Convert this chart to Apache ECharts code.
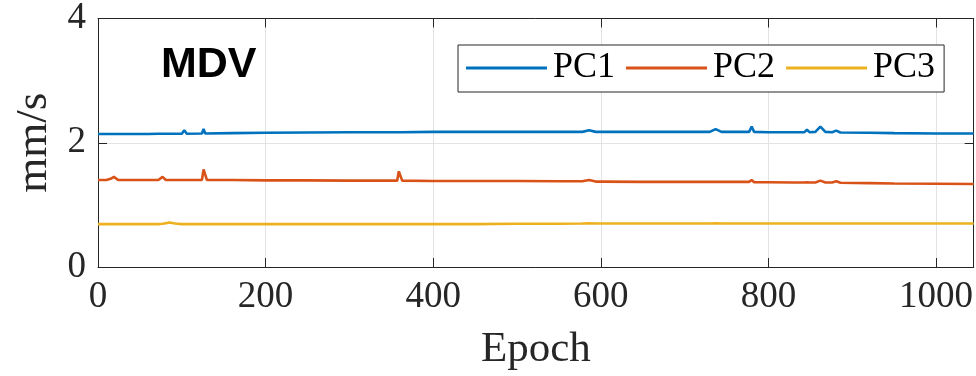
<!DOCTYPE html>
<html>
<head>
<meta charset="utf-8">
<script src="https://cdn.jsdelivr.net/npm/echarts@6/dist/echarts.min.js"></script>
<style>html,body{margin:0;padding:0;background:#fff;}#c{width:976px;height:376px;}</style>
</head>
<body>
<div id="c"></div>
<script>
const seriesNames = ['PC1', 'PC2', 'PC3'];
const xTicks = [0, 200, 400, 600, 800, 1000];
const yTicks = [0, 2, 4];
const xAxisTitle = 'Epoch';
const yAxisTitle = 'mm/s';
const panelLabel = 'MDV';
const epochs = [
  0, 10, 15, 19, 24, 40, 60, 72, 77, 81,
  85, 92, 100, 103, 106, 124, 126, 128, 130, 160,
  200, 250, 300, 340, 357, 359, 361, 363, 400, 450,
  500, 550, 578, 586, 594, 600, 650, 700, 730, 737,
  744, 760, 777, 780, 783, 800, 830, 843, 846, 849,
  856, 862, 868, 876, 881, 886, 920, 950, 1000, 1045
];
const pc1 = [
  2.14, 2.14, 2.14, 2.14, 2.14, 2.14, 2.14, 2.145, 2.145, 2.145,
  2.145, 2.145, 2.145, 2.20, 2.145, 2.15, 2.22, 2.15, 2.15, 2.155,
  2.16, 2.165, 2.17, 2.17, 2.17, 2.20, 2.17, 2.17, 2.175, 2.175,
  2.175, 2.175, 2.175, 2.20, 2.175, 2.175, 2.175, 2.175, 2.175, 2.22,
  2.175, 2.175, 2.175, 2.26, 2.175, 2.17, 2.17, 2.17, 2.21, 2.17,
  2.175, 2.26, 2.175, 2.17, 2.195, 2.165, 2.16, 2.155, 2.15, 2.15
];
const pc2 = [
  1.40, 1.40, 1.42, 1.45, 1.40, 1.40, 1.40, 1.40, 1.45, 1.40,
  1.40, 1.40, 1.40, 1.40, 1.40, 1.40, 1.57, 1.56, 1.40, 1.40,
  1.395, 1.395, 1.39, 1.39, 1.39, 1.54, 1.53, 1.39, 1.385, 1.385,
  1.385, 1.38, 1.38, 1.40, 1.375, 1.375, 1.37, 1.37, 1.37, 1.37,
  1.37, 1.37, 1.37, 1.40, 1.365, 1.365, 1.36, 1.36, 1.365, 1.36,
  1.36, 1.39, 1.36, 1.36, 1.38, 1.355, 1.35, 1.345, 1.34, 1.335
];
const pc3 = [
  0.69, 0.69, 0.69, 0.69, 0.69, 0.69, 0.69, 0.69, 0.695, 0.705,
  0.715, 0.70, 0.69, 0.69, 0.69, 0.69, 0.69, 0.69, 0.69, 0.69,
  0.69, 0.69, 0.69, 0.69, 0.69, 0.69, 0.69, 0.69, 0.69, 0.69,
  0.695, 0.695, 0.70, 0.705, 0.70, 0.70, 0.70, 0.70, 0.70, 0.705,
  0.70, 0.70, 0.70, 0.70, 0.70, 0.70, 0.70, 0.70, 0.70, 0.70,
  0.70, 0.70, 0.70, 0.70, 0.70, 0.70, 0.70, 0.70, 0.70, 0.70
];
const xMax = 1045;
const colors = ['#0072BD', '#D95319', '#EDB120'];

const allValues = [pc1, pc2, pc3];
const serif = 'Liberation Serif';
const frameColor = '#262626';

const chart = echarts.init(document.getElementById('c'), null, {renderer: 'canvas'});
const baseAxis = {
  type: 'value',
  axisLine: {show: true, onZero: false, lineStyle: {color: frameColor, width: 1}},
  axisTick: {show: true, inside: true, length: 9, lineStyle: {color: frameColor, width: 1}}
};
chart.setOption({
  animation: false,
  backgroundColor: '#fff',
  color: colors,
  grid: {left: 98, top: 16, right: 1, bottom: 105, containLabel: false},
  graphic: [{
    type: 'text', left: 161, top: 44,
    style: {text: panelLabel, font: 'bold 43px "Liberation Sans"', fill: '#000'}
  }],
  legend: {
    data: seriesNames,
    left: 458, top: 45,
    icon: 'rect', itemWidth: 81, itemHeight: 3, itemGap: 11,
    backgroundColor: '#fff', borderColor: frameColor, borderWidth: 1,
    padding: [5, 9, 6, 8],
    textStyle: {fontFamily: serif, fontSize: 36, color: '#000', padding: [0, 0, 0, 1]}
  },
  xAxis: [
    Object.assign({}, baseAxis, {
      position: 'bottom', min: 0, max: xMax, interval: 200,
      axisLabel: {fontFamily: serif, fontSize: 37, color: frameColor, margin: 12, showMaxLabel: false,
        formatter: v => xTicks.includes(v) ? String(v) : ''},
      splitLine: {show: true, lineStyle: {color: '#e3e3e3', width: 1}},
      name: xAxisTitle, nameLocation: 'middle', nameGap: 61,
      nameTextStyle: {fontFamily: serif, fontSize: 43, color: frameColor}
    }),
    Object.assign({}, baseAxis, {
      position: 'top', min: 0, max: xMax, interval: 200,
      axisLabel: {show: false}, splitLine: {show: false}
    })
  ],
  yAxis: [
    Object.assign({}, baseAxis, {
      position: 'left', min: 0, max: 4, interval: 2,
      axisLabel: {fontFamily: serif, fontSize: 37, color: frameColor, margin: 12,
        formatter: v => yTicks.includes(v) ? String(v) : ''},
      splitLine: {show: true, lineStyle: {color: '#e3e3e3', width: 1}},
      name: yAxisTitle, nameLocation: 'middle', nameGap: 40, nameRotate: 90,
      nameTextStyle: {fontFamily: serif, fontSize: 45, color: frameColor}
    }),
    Object.assign({}, baseAxis, {
      position: 'right', min: 0, max: 4, interval: 2,
      axisLabel: {show: false}, splitLine: {show: false}
    })
  ],
  series: seriesNames.map((name, i) => ({
    name: name, type: 'line', xAxisIndex: 0, yAxisIndex: 0,
    showSymbol: false, symbol: 'none', smooth: false,
    lineStyle: {width: 2.6, color: colors[i]},
    data: epochs.map((e, j) => [e, allValues[i][j]])
  }))
});
</script>
</body>
</html>
